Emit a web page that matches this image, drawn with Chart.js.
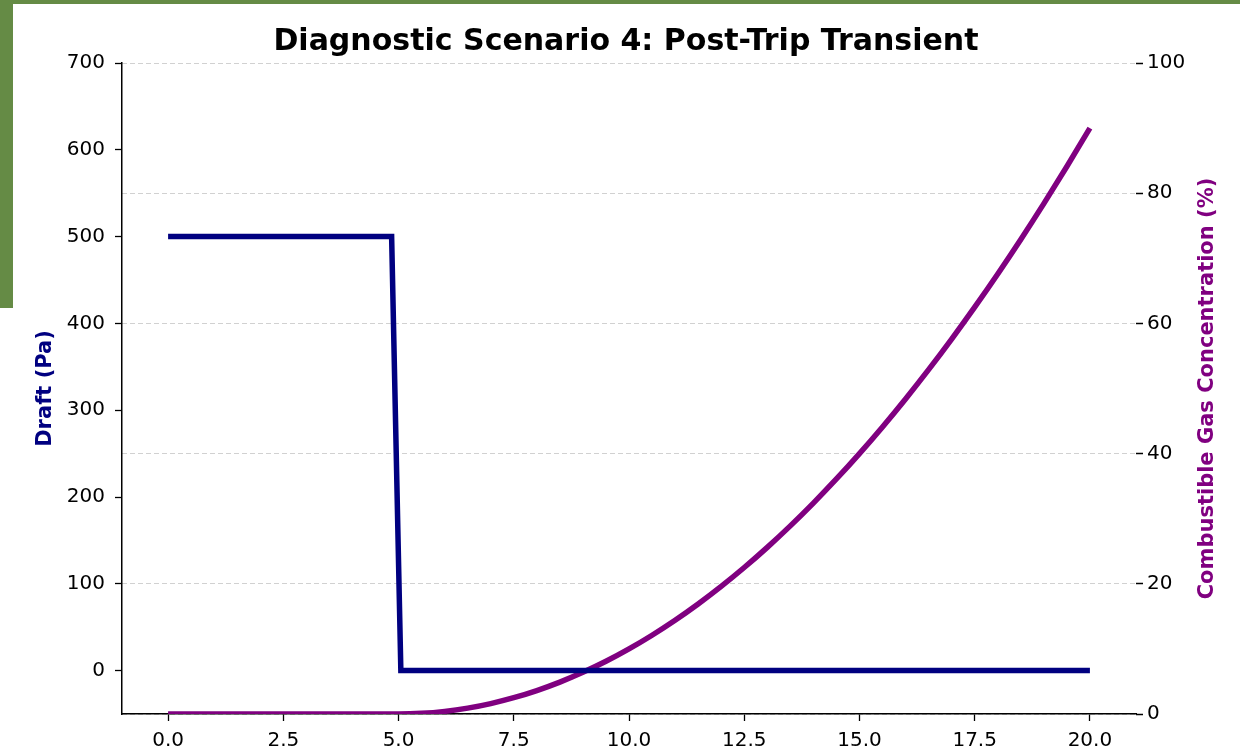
<!DOCTYPE html>
<html>
<head>
<meta charset="utf-8">
<script src="https://cdn.jsdelivr.net/npm/chart.js@4.4.0/dist/chart.umd.min.js"></script>
<style>
  html, body { margin: 0; padding: 0; background: #ffffff; }
  #wrap { position: relative; width: 1240px; height: 753px; overflow: hidden; background: #fff; }
  #topbar { position: absolute; left: 0; top: 0; width: 1240px; height: 4px; background: #658b45; }
  #leftbar { position: absolute; left: 0; top: 0; width: 13px; height: 308px; background: #658b45; }
  canvas { position: absolute; left: 0; top: 0; }
</style>
</head>
<body>
<div id="wrap">
  <canvas id="c" width="1240" height="753"></canvas>
  <div id="topbar"></div>
  <div id="leftbar"></div>
</div>
<script>
// ---- data ----
const draftTime   = [0, 4.85, 5.05, 20];
const draftValues = [500, 500, 0, 0];

const gasTime   = [0, 5, 5.5, 6, 6.5, 7, 7.5, 8, 8.5, 9, 9.5, 10, 10.5, 11, 11.5, 12, 12.5, 13, 13.5, 14, 14.5, 15, 15.5, 16, 16.5, 17, 17.5, 18, 18.5, 19, 19.5, 20];
const gasValues = [0, 0, 0.1, 0.4, 0.9, 1.6, 2.5, 3.6, 4.9, 6.4, 8.1, 10, 12.1, 14.4, 16.9, 19.6, 22.5, 25.6, 28.9, 32.4, 36.1, 40, 44.1, 48.4, 52.9, 57.6, 62.5, 67.6, 72.9, 78.4, 84.1, 90];

const xTicks     = [0, 2.5, 5, 7.5, 10, 12.5, 15, 17.5, 20];
const draftTicks = [0, 100, 200, 300, 400, 500, 600, 700];
const gasTicks   = [0, 20, 40, 60, 80, 100];

const titleText = 'Diagnostic Scenario 4: Post-Trip Transient';
const draftLabel = 'Draft (Pa)';
const gasLabel = 'Combustible Gas Concentration (%)';

const FONT = "'DejaVu Sans', sans-serif";

function toPoints(xs, ys) { return xs.map((x, i) => ({ x: x, y: ys[i] })); }
function setTicks(list) { return function (scale) { scale.ticks = list.map(v => ({ value: v })); }; }

// right-hand axis title, read bottom-to-top as in the reference
const rightTitlePlugin = {
  id: 'rightTitle',
  afterDraw(chart) {
    const s = chart.scales.y2;
    const ctx = chart.ctx;
    ctx.save();
    ctx.translate(s.right - 11, (chart.chartArea.top + chart.chartArea.bottom) / 2);
    ctx.rotate(-Math.PI / 2);
    ctx.fillStyle = '#800080';
    ctx.font = "bold 21px " + FONT;
    ctx.textAlign = 'center';
    ctx.textBaseline = 'middle';
    ctx.fillText(gasLabel, 0, 0);
    ctx.restore();
  }
};

new Chart(document.getElementById('c'), {
  type: 'line',
  data: {
    datasets: [
      {
        label: draftLabel,
        data: toPoints(draftTime, draftValues),
        borderColor: '#000080',
        borderWidth: 5.5,
        pointRadius: 0,
        tension: 0,
        borderJoinStyle: 'miter',
        borderCapStyle: 'butt',
        yAxisID: 'y'
      },
      {
        label: gasLabel,
        data: toPoints(gasTime, gasValues),
        borderColor: '#800080',
        borderWidth: 5.5,
        pointRadius: 0,
        cubicInterpolationMode: 'monotone',
        borderCapStyle: 'butt',
        clip: 0,
        yAxisID: 'y2'
      }
    ]
  },
  plugins: [rightTitlePlugin],
  options: {
    responsive: false,
    animation: false,
    events: [],
    layout: { padding: { left: 33, right: 21, top: 0, bottom: 0 } },
    plugins: {
      legend: { display: false },
      tooltip: { enabled: false },
      title: {
        display: true,
        text: titleText,
        color: '#000',
        font: { family: FONT, size: 30, weight: 'bold', lineHeight: 1.2 },
        padding: { top: 24, bottom: 3 }
      }
    },
    scales: {
      x: {
        type: 'linear',
        min: -1,
        max: 21,
        afterBuildTicks: setTicks(xTicks),
        afterFit: function (s) { s.height = 39; },
        ticks: {
          color: '#000',
          font: { family: FONT, size: 20 },
          padding: 8,
          maxRotation: 0,
          autoSkip: false,
          callback: v => Number(v).toFixed(1)
        },
        grid: { drawOnChartArea: false, drawTicks: true, tickLength: 7, tickColor: '#000', tickWidth: 1.3 },
        border: { display: true, color: '#000', width: 1.5 }
      },
      y: {
        type: 'linear',
        position: 'left',
        min: -50,
        max: 700,
        afterBuildTicks: setTicks(draftTicks),
        afterFit: function (s) { s.width = 89; },
        ticks: {
          color: '#000',
          font: { family: FONT, size: 20 },
          padding: 10,
          autoSkip: false
        },
        grid: { drawOnChartArea: false, drawTicks: true, tickLength: 7, tickColor: '#000', tickWidth: 1.3 },
        border: { display: true, color: '#000', width: 1.5 },
        title: {
          display: true,
          text: draftLabel,
          color: '#000080',
          font: { family: FONT, size: 21, weight: 'bold', lineHeight: 1.2 },
          padding: 0
        }
      },
      y2: {
        type: 'linear',
        position: 'right',
        min: 0,
        max: 100,
        afterBuildTicks: setTicks(gasTicks),
        afterFit: function (s) { s.width = 83; },
        ticks: {
          color: '#000',
          font: { family: FONT, size: 20 },
          padding: 4,
          autoSkip: false
        },
        grid: {
          drawOnChartArea: true,
          drawTicks: true,
          tickLength: 7,
          color: 'rgba(0,0,0,0.18)',
          lineWidth: 1,
          tickColor: '#000',
          tickWidth: 1.3,
          tickBorderDash: [1, 0]
        },
        border: { display: false, dash: [5, 3] }
      }
    }
  }
});
</script>
</body>
</html>
